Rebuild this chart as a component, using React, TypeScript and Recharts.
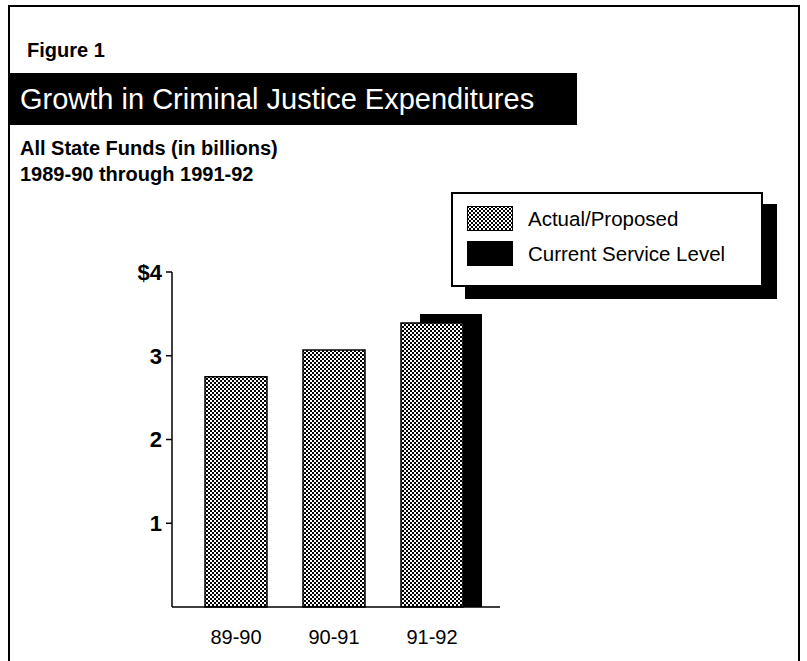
import React from 'react';
import { BarChart, Bar, XAxis, YAxis, Legend } from "recharts";

// values (billions of dollars)
const categories = ["89-90", "90-91", "91-92"];
const actualProposed = [2.75, 3.07, 3.39];
const currentServiceLevel = [null, null, 3.5];
const yTicks = [1, 2, 3, 4];
const seriesNames = ["Actual/Proposed", "Current Service Level"];

const data = categories.map((category, i) => ({
  category,
  actual: actualProposed[i],
  csl: currentServiceLevel[i],
}));

const FONT = '"Liberation Sans", Arial, Helvetica, sans-serif';
const DOTS = "url(#dots)";

function LegendBox() {
  const fills = [DOTS, "#000"];
  return (
    <div
      style={{
        width: 308,
        height: 91,
        border: "2px solid #000",
        background: "#fff",
        boxShadow: "14px 12px 0 #000",
        fontFamily: FONT,
        fontSize: 20.5,
        color: "#000",
        boxSizing: "content-box",
      }}
    >
      {seriesNames.map((name, i) => (
        <div key={name} style={{ position: "absolute", left: 16, top: 14 + i * 35, display: "flex", alignItems: "center" }}>
          <svg width={46} height={25} style={{ display: "block" }}>
            <rect x={0.5} y={0.5} width={45} height={24} fill={fills[i]} stroke="#000" strokeWidth={1} />
          </svg>
          <span style={{ marginLeft: 15 }}>{name}</span>
        </div>
      ))}
    </div>
  );
}

export default function App() {
  return (
    <div style={{ position: "absolute", left: 0, top: 0, width: 807, height: 661, background: "#fff", overflow: "hidden", fontFamily: FONT }}>
      {/* shared fill pattern for the dithered bars */}
      <svg width={0} height={0} style={{ position: "absolute" }}>
        <defs>
          <pattern id="dots" width={4} height={4} patternUnits="userSpaceOnUse">
            <rect width={4} height={4} fill="#fff" />
            <rect x={0} y={0} width={2} height={2} fill="#000" />
            <rect x={2} y={2} width={2} height={2} fill="#000" />
          </pattern>
        </defs>
      </svg>

      {/* frame */}
      <div style={{ position: "absolute", left: 8, top: 5, width: 788, height: 700, borderLeft: "2px solid #000", borderTop: "2px solid #000", borderRight: "2px solid #000" }} />

      <div style={{ position: "absolute", left: 27, top: 39, fontSize: 20, fontWeight: "bold", color: "#000" }}>Figure 1</div>

      <div style={{ position: "absolute", left: 9, top: 73, width: 568, height: 52, background: "#000", color: "#fff", fontSize: 29, lineHeight: "52px", paddingLeft: 11, boxSizing: "border-box", whiteSpace: "nowrap" }}>
        Growth in Criminal Justice Expenditures
      </div>

      <div style={{ position: "absolute", left: 20, top: 135, fontSize: 20, fontWeight: "bold", lineHeight: "26px", color: "#000" }}>
        All State Funds (in billions)
        <br />
        1989-90 through 1991-92
      </div>

      <div style={{ position: "absolute", left: 0, top: 0 }}>
        <BarChart width={807} height={661} data={data} margin={{ top: 272, right: 307, bottom: 14, left: 112 }}>
          <XAxis
            xAxisId="a"
            dataKey="category"
            height={40}
            padding={{ left: 15, right: 19 }}
            axisLine={{ stroke: "#000", strokeWidth: 1.5 }}
            tickLine={false}
            tickSize={0}
            tickMargin={23}
            tick={{ fill: "#000", fontSize: 20, fontFamily: FONT }}
          />
          <XAxis xAxisId="b" dataKey="category" hide padding={{ left: 34, right: 0 }} />
          <YAxis
            width={60}
            domain={[0, 4]}
            ticks={yTicks}
            interval={0}
            axisLine={{ stroke: "#000", strokeWidth: 1.5 }}
            tickLine={{ stroke: "#000", strokeWidth: 1.5 }}
            tickSize={6}
            tickMargin={4}
            tickFormatter={(v) => (v === 4 ? "$4" : String(v))}
            tick={{ fill: "#000", fontSize: 22, fontWeight: "bold", fontFamily: FONT }}
          />
          <Legend
            layout="vertical"
            align="center"
            verticalAlign="middle"
            content={() => <LegendBox />}
            wrapperStyle={{ position: "absolute", left: 451, top: 192, width: 312, height: 95 }}
          />
          <Bar xAxisId="b" dataKey="csl" name={seriesNames[1]} fill="#000" barSize={62} isAnimationActive={false} />
          <Bar xAxisId="a" dataKey="actual" name={seriesNames[0]} fill={DOTS} stroke="#000" strokeWidth={1.5} barSize={62} isAnimationActive={false} />
        </BarChart>
      </div>
    </div>
  );
}
